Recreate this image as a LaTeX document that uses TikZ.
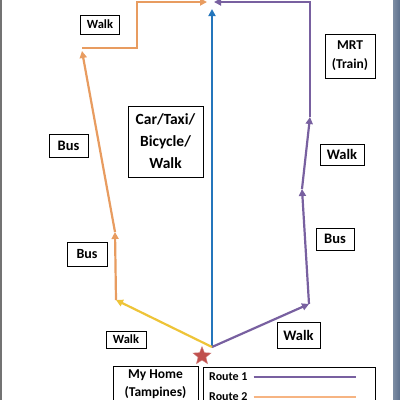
\documentclass[tikz,border=0pt]{standalone}
\usepackage{fontspec}
\setmainfont{Carlito}
\usetikzlibrary{arrows.meta,shapes.geometric,positioning}
\definecolor{routeone}{RGB}{120,96,160}
\definecolor{routetwo}{RGB}{232,156,96}
\definecolor{legendtwo}{RGB}{246,180,130}
\definecolor{walkyellow}{RGB}{238,196,56}
\definecolor{carblue}{RGB}{36,118,188}
\definecolor{homered}{RGB}{192,80,77}
\definecolor{sidebar}{RGB}{92,112,140}

\begin{document}
\begin{tikzpicture}
	[x=1pt,y=-1pt,
	box/.style={draw,fill=white,line width=0.8pt,align=center,inner sep=0pt},
	txtS/.style={font=\bfseries\fontsize{12.5}{15}\selectfont},
	txtM/.style={font=\bfseries\fontsize{14.5}{17}\selectfont},
	txtL/.style={font=\bfseries\fontsize{15.5}{22}\selectfont},
	route/.style={line width=2.2pt,-{Triangle[length=7pt,width=7pt]}},
	]
	\useasboundingbox (0,0) rectangle (400,400);
	% window edges
	\fill[gray!90!black] (0,0) rectangle (2,400);
	\shade[left color=sidebar!80!white,right color=sidebar] (393,0) rectangle (400,400);

	% turning points
	\coordinate (home) at (212,347);
	\coordinate (top) at (212,9);
	\coordinate (p1) at (309,304);
	\coordinate (p2) at (302,189);
	\coordinate (p3) at (310,117);
	\coordinate (p4) at (310,2);
	\coordinate (p5) at (214,2);
	\coordinate (o1) at (116,300);
	\coordinate (o2) at (115,232);
	\coordinate (o3) at (82,51);
	\coordinate (o4) at (82,48);
	\coordinate (o5) at (137,48);
	\coordinate (o6) at (137,2);
	\coordinate (o7) at (207,2);

	% car / taxi / bicycle / walk
	\draw[route,carblue] (home) -- (top);
	% route 1
	\draw[route,routeone] (home) -- (p1);
	\draw[route,routeone] (p1) -- (p2);
	\draw[route,routeone] (p2) -- (p3);
	\draw[route,routeone] (p3) -- (p4) -- (p5);
	% route 2
	\draw[route,walkyellow] (home) -- (o1);
	\draw[route,routetwo] (o1) -- (o2);
	\draw[route,routetwo] (o2) -- (o3);
	\draw[route,routetwo] (o4) -- (o5) -- (o6) -- (o7);

	% labels
	\node[box,txtS,minimum width=39,minimum height=19] (walkA) at (100,24.5) {Walk};
	\node[box,txtM,minimum width=39,minimum height=23] (busA) at (68.5,145.5) {Bus};
	\node[box,txtL,minimum width=75,minimum height=71] (car) at (165.5,141.5) {Car/Taxi/\\Bicycle/\\Walk};
	\node[box,font=\bfseries\fontsize{13.5}{19}\selectfont,minimum width=50,minimum height=44] (mrt) at (350,56) {MRT\\(Train)};
	\node[box,txtM,minimum width=44,minimum height=21] (walkB) at (342,154.5) {Walk};
	\node[box,txtM,minimum width=38,minimum height=22] (busB) at (335,239) {Bus};
	\node[box,txtM,minimum width=43,minimum height=26] (walkC) at (298.5,335) {Walk};
	\node[box,font=\bfseries\fontsize{14}{17}\selectfont,minimum width=40,minimum height=24] (busC) at (87,254) {Bus};
	\node[box,txtS,minimum width=40,minimum height=17] (walkD) at (126,339.5) {Walk};

	% home and legend
	\node[star,star points=5,star point ratio=2.3,fill=homered,draw=homered!70!white,minimum size=19,inner sep=0pt] (star) at (202,356) {};
	\node[box,font=\bfseries\fontsize{13.5}{18}\selectfont,minimum width=85,minimum height=50,anchor=north,inner ysep=3pt,text depth=22] (myhome) at (155.5,366) {My Home\\(Tampines)};
	\node[box,minimum width=172,minimum height=50,anchor=north west] (legend) at (203,367) {};
	\node[font=\bfseries\fontsize{12}{14}\selectfont,anchor=west,inner sep=0pt] (r1) at (209,377) {Route 1};
	\node[font=\bfseries\fontsize{12}{14}\selectfont,anchor=west,inner sep=0pt] (r2) at (209,397) {Route 2};
	\draw[routeone,line width=2.6pt] ([xshift=6]r1.east) -- ([xshift=108]r1.east);
	\draw[legendtwo,line width=2.6pt] ([xshift=6]r2.east) -- ([xshift=108]r2.east);
\end{tikzpicture}
\end{document}
